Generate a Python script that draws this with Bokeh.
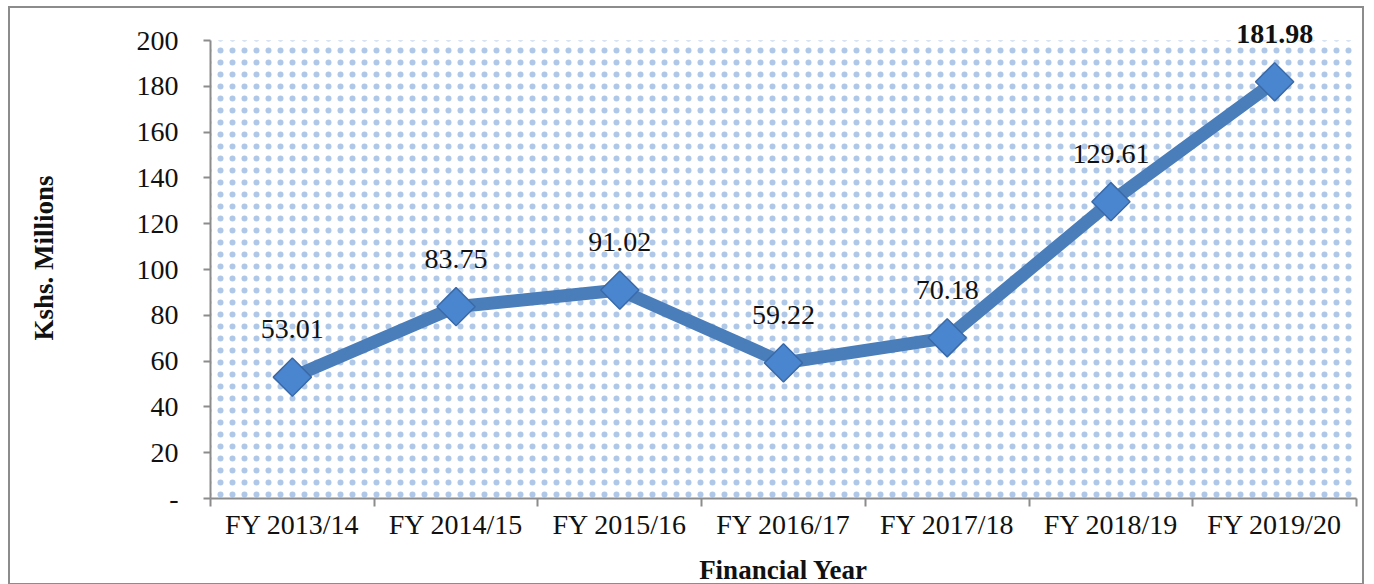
import numpy as np
from bokeh.plotting import figure
from bokeh.models import (ColumnDataSource, Range1d, FixedTicker, CustomJSTickFormatter,
                          BoxAnnotation, LabelSet)
from bokeh.core.properties import value
from bokeh.embed import file_html
from bokeh.resources import INLINE

categories = ["FY 2013/14", "FY 2014/15", "FY 2015/16", "FY 2016/17",
              "FY 2017/18", "FY 2018/19", "FY 2019/20"]
values = [53.01, 83.75, 91.02, 59.22, 70.18, 129.61, 181.98]
y_ticks = [0, 20, 40, 60, 80, 100, 120, 140, 160, 180, 200]
y_min, y_max = 0, 200

n = len(categories)
xs = [i + 0.5 for i in range(n)]
vmax = max(values)
src = ColumnDataSource(dict(x=xs, y=values))
src_norm = ColumnDataSource(dict(
    x=[x for x, v in zip(xs, values) if v != vmax],
    y=[v for v in values if v != vmax],
    label=[f"{v:.2f}" for v in values if v != vmax]))
src_bold = ColumnDataSource(dict(
    x=[x for x, v in zip(xs, values) if v == vmax],
    y=[v for v in values if v == vmax],
    label=[f"{v:.2f}" for v in values if v == vmax]))

FONT = "Liberation Serif"
LINE_C = "#4a7ebb"
AXIS_C = "#8c8c8c"

# plot area is 457 px tall for 0..200; small headroom above 200 for the top label
frame_h = 480
y_top = y_max * frame_h / 457.0

p = figure(width=1356, height=579, output_backend="svg", toolbar_location=None,
           x_range=Range1d(0, n), y_range=Range1d(y_min, y_top),
           min_border_left=200, min_border_right=10, min_border_top=9,
           min_border_bottom=83)
p.styles = {"margin-left": "8px", "margin-top": "6px",
            "border": f"2px solid {AXIS_C}"}
p.outline_line_color = None
p.xgrid.visible = False
p.ygrid.visible = False

p.add_layout(BoxAnnotation(bottom=y_min, top=y_max, fill_alpha=0, line_color=None,
                           hatch_pattern=".", hatch_color="#4f86cc", hatch_alpha=0.45,
                           hatch_scale=12, hatch_weight=0.3, level="underlay"))

p.line("x", "y", source=src, line_color=LINE_C, line_width=13, line_join="round")
p.scatter("x", "y", source=src, marker="square", size=27, angle=np.pi / 4,
          fill_color="#4a86cf", line_color="#3a6aa8", line_width=1.5)

for s, st in ((src_norm, "normal"), (src_bold, "bold")):
    p.add_layout(LabelSet(x="x", y="y", text="label", source=s, y_offset=48,
                          text_align="center", text_baseline="middle",
                          text_font=value(FONT), text_font_size="28px",
                          text_font_style=st, text_color="#111111"))

# x axis
xa = p.xaxis[0]
xa.ticker = FixedTicker(ticks=xs, minor_ticks=list(range(n + 1)))
xa.formatter = CustomJSTickFormatter(args=dict(cats=categories),
                                     code="return cats[Math.floor(tick)] || '';")
xa.major_tick_out = 0
xa.major_tick_in = 0
xa.minor_tick_out = 8
xa.minor_tick_in = 0
xa.minor_tick_line_color = AXIS_C
xa.minor_tick_line_width = 2
xa.axis_line_color = AXIS_C
xa.axis_line_width = 2
xa.major_label_text_font = FONT
xa.major_label_text_font_size = "28px"
xa.major_label_text_color = "#111111"
xa.major_label_standoff = 2
xa.axis_label = "Financial Year"
xa.axis_label_text_font = FONT
xa.axis_label_text_font_size = "27px"
xa.axis_label_text_font_style = "bold"
xa.axis_label_text_color = "#111111"
xa.axis_label_standoff = 12

# y axis
ya = p.yaxis[0]
ya.bounds = (y_min, y_max)
ya.ticker = FixedTicker(ticks=y_ticks)
ya.major_label_overrides = {0: "-"}
ya.major_tick_out = 7
ya.major_tick_in = 0
ya.minor_tick_out = 0
ya.minor_tick_in = 0
ya.major_tick_line_color = AXIS_C
ya.major_tick_line_width = 2
ya.axis_line_color = AXIS_C
ya.axis_line_width = 2
ya.major_label_text_font = FONT
ya.major_label_text_font_size = "28px"
ya.major_label_text_color = "#111111"
ya.major_label_standoff = 25
ya.axis_label = "Kshs. Millions"
ya.axis_label_text_font = FONT
ya.axis_label_text_font_size = "27px"
ya.axis_label_text_font_style = "bold"
ya.axis_label_text_color = "#111111"
ya.axis_label_standoff = 75

open("out.html", "w").write(file_html(p, INLINE))
